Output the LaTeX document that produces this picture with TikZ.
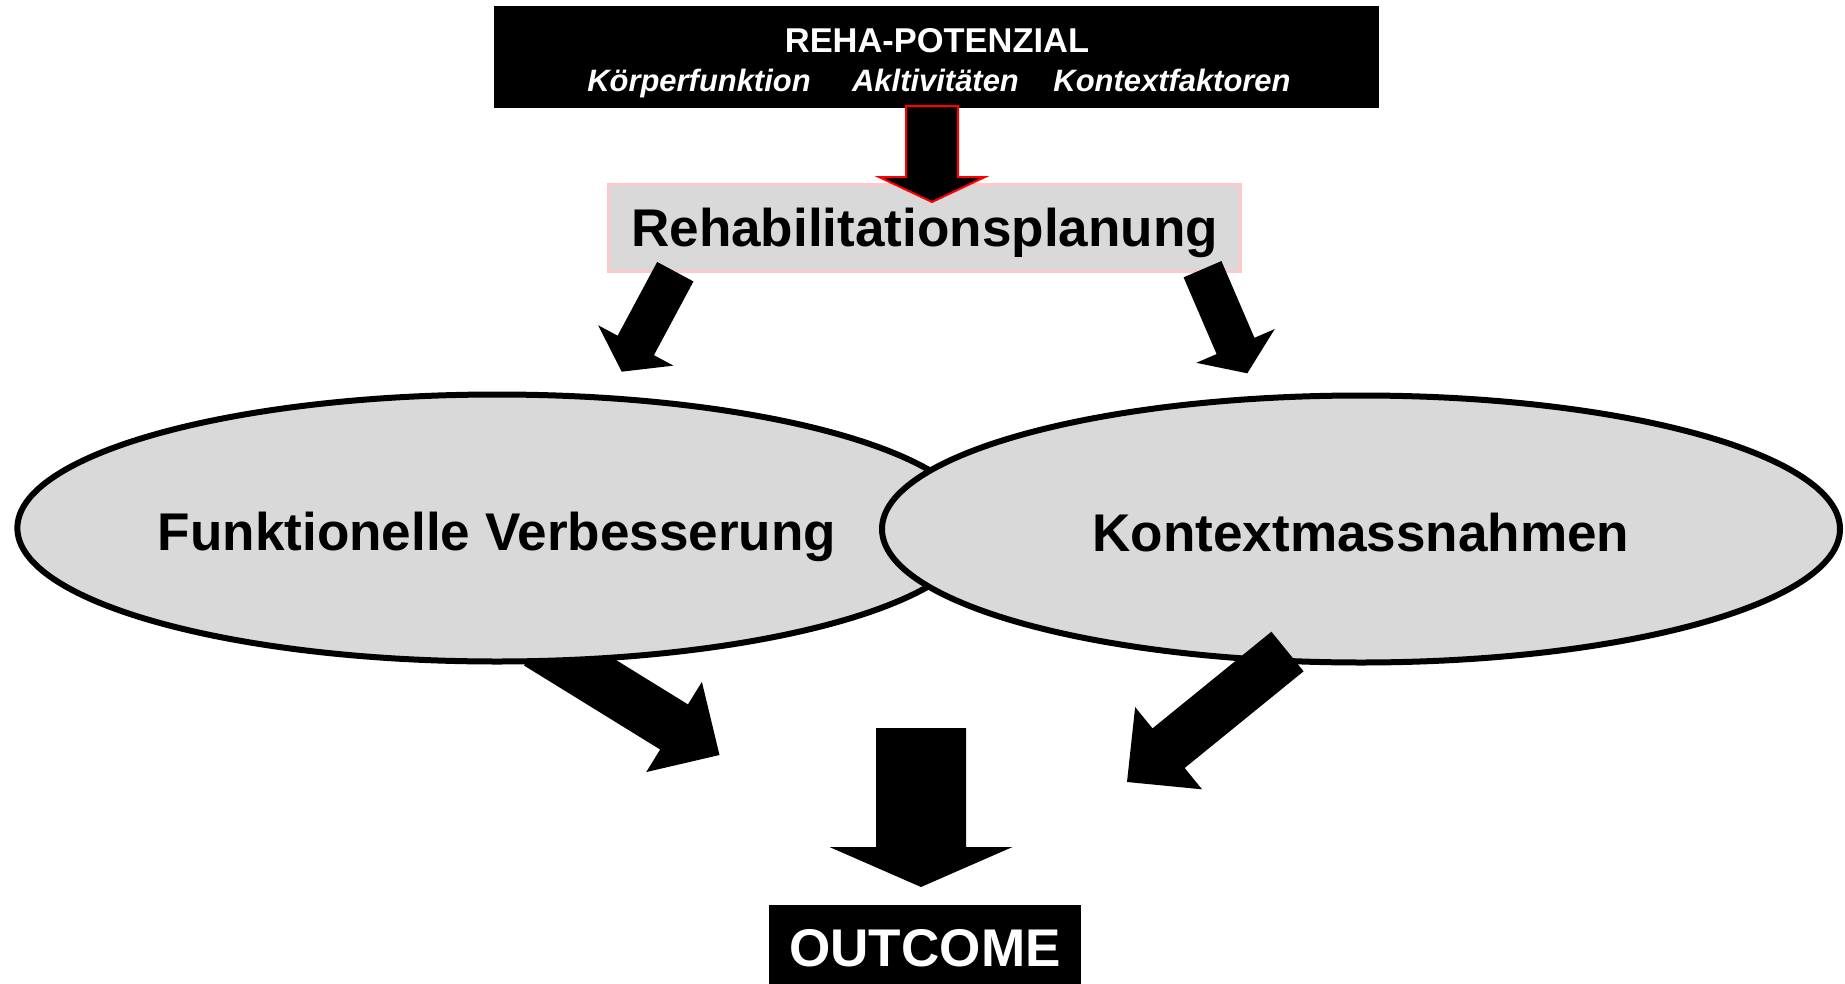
\documentclass[tikz,border=0pt]{standalone}
\usepackage{fontspec}
\setmainfont{Liberation Sans}
\usepackage{tikz}
\usetikzlibrary{shapes.geometric,calc}
\definecolor{ovalgray}{RGB}{217,217,217}
\definecolor{planrule}{RGB}{255,200,200}
\newcommand{\bigfont}{\fontsize{15.1}{18}\selectfont\bfseries}
\newcommand{\fatarrow}[6][]{%
  \coordinate (hb) at ($(#3)!#6!(#2)$);
  \path[fatfill,#1] ($(#2)!#4!90:(#3)$) -- ($(hb)!#4!90:(#3)$) -- ($(hb)!#5!90:(#3)$) -- (#3)
    -- ($(hb)!#5!-90:(#3)$) -- ($(hb)!#4!-90:(#3)$) -- ($(#2)!#4!-90:(#3)$) -- cycle;
}
\tikzset{
  potbox/.style={rectangle,fill=black,inner sep=0pt,minimum width=88.5mm,minimum height=10.2mm},
  pottitle/.style={anchor=base,text=white,inner sep=0pt,font=\fontsize{9.8}{12}\selectfont\bfseries},
  potitem/.style={anchor=base,text=white,inner sep=0pt,font=\fontsize{8.8}{11}\selectfont\bfseries\itshape},
  planbox/.style={rectangle,draw=planrule,fill=ovalgray,line width=0.3mm,minimum width=63.2mm,minimum height=8.74mm,inner sep=0pt,font=\bigfont,text height=4.6mm,text depth=0.86mm},
  oval/.style={ellipse,draw=black,fill=ovalgray,line width=0.6mm,minimum width=95.8mm,minimum height=26.7mm,inner sep=0pt,font=\bigfont,text height=5.2mm,text depth=0.8mm},
  outbox/.style={rectangle,fill=black,text=white,minimum width=31.2mm,minimum height=9.4mm,inner sep=0pt,font=\bigfont,text height=3.9mm,text depth=0.96mm},
  fatfill/.style={fill=black},
  redarrow/.style={draw=red,line width=0.2mm}
}
\begin{document}
\begin{tikzpicture}[x=0.1mm,y=-0.1mm]
  \useasboundingbox (0,0) rectangle (1845,983);
  \coordinate (funkT) at (538,643);
  \coordinate (funkH) at (719.5,755);
  \fatarrow{funkT}{funkH}{2.65mm}{5.3mm}{5.34mm}
  \node[oval] (funk) at (497,528) {Funktionelle Verbesserung};
  \node[oval] (ktx) at (1361,529) {Kontextmassnahmen};
  \coordinate (ktxT) at (1287.5,651.5);
  \coordinate (ktxH) at (1127,782);
  \fatarrow{ktxT}{ktxH}{2.55mm}{5.3mm}{5.36mm}
  \coordinate (midT) at (921,728);
  \coordinate (midH) at (921,887);
  \fatarrow{midT}{midH}{4.5mm}{9.15mm}{4mm}
  \node[outbox] (out) at (925,952) {OUTCOME};
  \node[planbox] (plan) at (924.6,228) {Rehabilitationsplanung};
  \coordinate (planL) at (675.3,271.7);
  \coordinate (funkU) at (621.7,371.7);
  \fatarrow{planL}{funkU}{2.06mm}{4.27mm}{2.98mm}
  \coordinate (planR) at (1202.5,269.2);
  \coordinate (ktxU) at (1247.3,373.3);
  \fatarrow{planR}{ktxU}{2.06mm}{4.27mm}{2.98mm}
  \node[potbox] (reha) at (936.5,57) {};
  \node[pottitle] (rehatitle) at (937,52.7) {REHA-POTENZIAL};
  \node[potitem] (koerper) at (699,91.7) {Körperfunktion};
  \node[potitem] (aktiv) at (935.5,91.7) {Akltivitäten};
  \node[potitem] (kontext) at (1172,91.7) {Kontextfaktoren};
  \coordinate (rehaB) at (932,106);
  \coordinate (planU) at (932,202);
  \fatarrow[redarrow]{rehaB}{planU}{2.6mm}{5.3mm}{2.5mm}
\end{tikzpicture}
\end{document}
